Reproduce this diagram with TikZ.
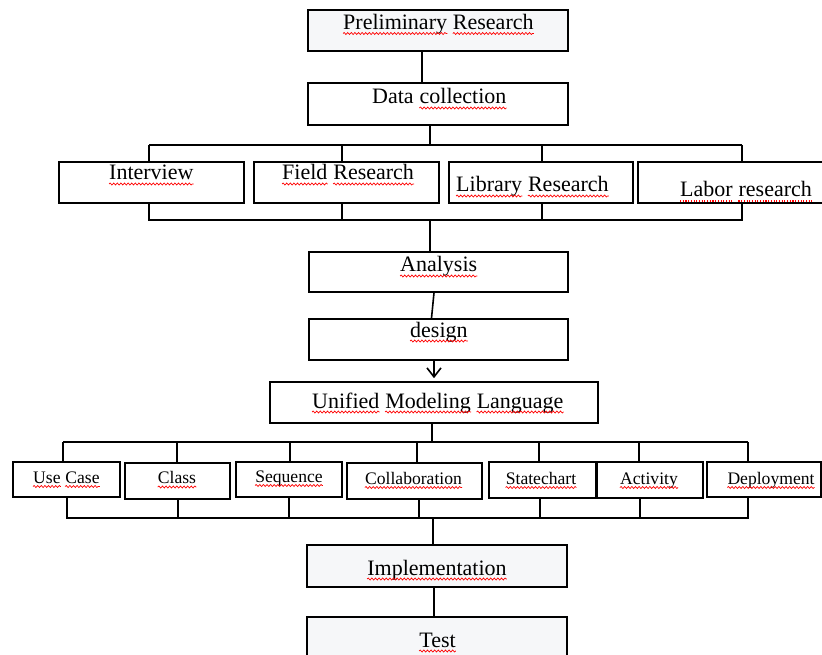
\documentclass[tikz,border=0pt]{standalone}
\usepackage{fontspec}
\setmainfont{Liberation Serif}
\usetikzlibrary{arrows.meta,decorations.pathmorphing}
\definecolor{boxfill}{RGB}{246,247,249}
\tikzset{
  box/.style={draw=black, line width=1.6pt, fill=white, inner sep=0pt},
  softbox/.style={box, fill=boxfill},
  lbl/.style={inner sep=0pt, anchor=base west, font=\fontsize{22}{24}\selectfont},
  slbl/.style={inner sep=0pt, anchor=base, font=\fontsize{17.6}{20}\selectfont},
  conn/.style={draw=black, line width=1.6pt},
  squig/.style={draw=red, line width=0.7pt, decorate, decoration={snake, amplitude=1pt, segment length=3.6pt}},
  dotsq/.style={draw=red, line width=1.1pt, dash pattern=on 1.1pt off 1.6pt},
}
\newcommand\bx[6]{\node[#1, minimum width={(#5-#3)*1pt}, minimum height={(#6-#4)*1pt}] (#2) at ({(#3+#5)/2},{(#4+#6)/2}) {};}
\newcommand\sql[1]{\draw[squig] ([yshift=-4pt]#1.base west) -- ([yshift=-4pt]#1.base east);}
\newcommand\sqs[1]{\draw[squig] ([yshift=-3.5pt]#1.base west) -- ([yshift=-3.5pt]#1.base east);}
\newcommand\sqdot[1]{\draw[dotsq] ([yshift=-4pt]#1.base west) -- ([yshift=-4pt]#1.base east);}
\begin{document}
\begin{tikzpicture}[x=1pt,y=-1pt]
\clip (0,0) rectangle (822,655);
\fill[white] (0,0) rectangle (822,655);
% boxes
\bx{softbox}{pre}{308}{10}{568}{51}
\bx{box}{dat}{308}{83}{568}{125}
\bx{box}{int}{59}{162}{244}{203}
\bx{box}{fie}{254}{162}{439}{203}
\bx{box}{lib}{449}{162}{633}{203}
\bx{box}{lab}{638}{162}{832}{203}
\bx{box}{ana}{309}{252}{568}{292}
\bx{box}{des}{309}{319}{568}{360}
\bx{box}{uml}{270}{382}{598}{423}
\bx{box}{use}{13}{462}{120}{497}
\bx{box}{cla}{125}{463}{230}{499}
\bx{box}{seq}{236}{462}{342}{497}
\bx{box}{col}{347}{463}{482}{499}
\bx{box}{sta}{489}{462}{596}{498}
\bx{box}{act}{597}{462}{703}{498}
\bx{box}{dep}{707}{462}{821}{497}
\bx{softbox}{imp}{307}{545}{567}{587}
\bx{softbox}{tes}{307}{617}{567}{672}
% labels
\node[lbl] (tpre1) at (343,29.5) {Preliminary};
\node[lbl] (tpre2) at ([xshift=5.5pt]tpre1.base east) {Research};
\node[lbl] (tdat1) at (372,104) {Data};
\node[lbl] (tdat2) at ([xshift=5.5pt]tdat1.base east) {collection};
\node[lbl] (tint) at (109,180) {Interview};
\node[lbl] (tfie1) at (282,180) {Field};
\node[lbl] (tfie2) at ([xshift=5.5pt]tfie1.base east) {Research};
\node[lbl] (tlib1) at (456,192) {Library};
\node[lbl] (tlib2) at ([xshift=5.5pt]tlib1.base east) {Research};
\node[lbl] (tlab1) at (680,197) {Labor};
\node[lbl] (tlab2) at ([xshift=5.5pt]tlab1.base east) {research};
\node[lbl] (tana) at (400,272) {Analysis};
\node[lbl] (tdes) at (410,337) {design};
\node[lbl] (tuml1) at (312,408) {Unified};
\node[lbl] (tuml2) at ([xshift=5.5pt]tuml1.base east) {Modeling};
\node[lbl] (tuml3) at ([xshift=5.5pt]tuml2.base east) {Language};
\node[slbl, anchor=base west] (tuse1) at (33,483) {Use};
\node[slbl, anchor=base west] (tuse2) at ([xshift=4.4pt]tuse1.base east) {Case};
\node[slbl] (tcla) at (177,483.5) {Class};
\node[slbl] (tseq) at (289,482) {Sequence};
\node[slbl] (tcol) at (413.5,484) {Collaboration};
\node[slbl] (tsta) at (541,484) {Statechart};
\node[slbl] (tact) at (649,484) {Activity};
\node[slbl] (tdep) at (771,484) {Deployment};
\node[lbl, anchor=base] (timp) at (437,575) {Implementation};
\node[lbl, anchor=base] (ttes) at (437.5,647) {Test};
% spell-check marks
\sql{tpre1} \sql{tpre2} \sql{tdat2} \sql{tint} \sql{tfie1} \sql{tfie2}
\sql{tlib1} \sql{tlib2} \sqdot{tlab1} \sqdot{tlab2} \sql{tana} \sql{tdes}
\sql{tuml1} \sql{tuml2} \sql{tuml3}
\sqs{tuse1} \sqs{tuse2} \sqs{tcla} \sqs{tseq} \sqs{tcol} \sqs{tsta} \sqs{tact} \sqs{tdep}
\sql{timp} \sql{ttes}
% bus coordinates
\coordinate (a0) at (422,0);
\coordinate (a1) at (430,145);
\coordinate (a2) at (430,220);
\coordinate (t1) at (149,145); \coordinate (t2) at (342,145); \coordinate (t3) at (542,145); \coordinate (t4) at (742,145);
\coordinate (u1) at (149,220); \coordinate (u2) at (342,220); \coordinate (u3) at (542,220); \coordinate (u4) at (742,220);
\coordinate (m1) at (432,442); \coordinate (m2) at (433,518);
\coordinate (p1) at (63,442); \coordinate (p2) at (177,442); \coordinate (p3) at (290,442); \coordinate (p4) at (417,442);
\coordinate (p5) at (539,442); \coordinate (p6) at (639,442); \coordinate (p7) at (748,442);
\coordinate (q1) at (67,518); \coordinate (q2) at (178,518); \coordinate (q3) at (289,518); \coordinate (q4) at (419,518);
\coordinate (q5) at (540,518); \coordinate (q6) at (640,518); \coordinate (q7) at (748,518);
\coordinate (z1) at (434,0);
% connectors
\draw[conn] (pre.south -| a0) -- (dat.north -| a0);
\draw[conn] (dat.south -| a1) -- (a1);
\draw[conn] (t1) -- (t4);
\draw[conn] (t1) -- (int.north -| t1);
\draw[conn] (t2) -- (fie.north -| t2);
\draw[conn] (t3) -- (lib.north -| t3);
\draw[conn] (t4) -- (lab.north -| t4);
\draw[conn] (int.south -| u1) -- (u1) -- (u4) -- (lab.south -| u4);
\draw[conn] (fie.south -| u2) -- (u2);
\draw[conn] (lib.south -| u3) -- (u3);
\draw[conn] (a2) -- (ana.north -| a2);
\draw[conn] ([xshift=-4.5pt]ana.south) -- ([xshift=-7pt]des.north);
\draw[conn, -{Straight Barb[length=9pt,width=14pt,line width=1.6pt]}, shorten >=3pt] (des.south -| z1) -- (uml.north -| z1);
\draw[conn] (uml.south -| m1) -- (m1);
\draw[conn] (p1) -- (p7);
\draw[conn] (p1) -- (use.north -| p1);
\draw[conn] (p2) -- (cla.north -| p2);
\draw[conn] (p3) -- (seq.north -| p3);
\draw[conn] (p4) -- (col.north -| p4);
\draw[conn] (p5) -- (sta.north -| p5);
\draw[conn] (p6) -- (act.north -| p6);
\draw[conn] (p7) -- (dep.north -| p7);
\draw[conn] (use.south -| q1) -- (q1) -- (q7) -- (dep.south -| q7);
\draw[conn] (cla.south -| q2) -- (q2);
\draw[conn] (seq.south -| q3) -- (q3);
\draw[conn] (col.south -| q4) -- (q4);
\draw[conn] (sta.south -| q5) -- (q5);
\draw[conn] (act.south -| q6) -- (q6);
\draw[conn] (m2) -- (imp.north -| m2);
\draw[conn] (imp.south -| z1) -- (tes.north -| z1);
\end{tikzpicture}
\end{document}
